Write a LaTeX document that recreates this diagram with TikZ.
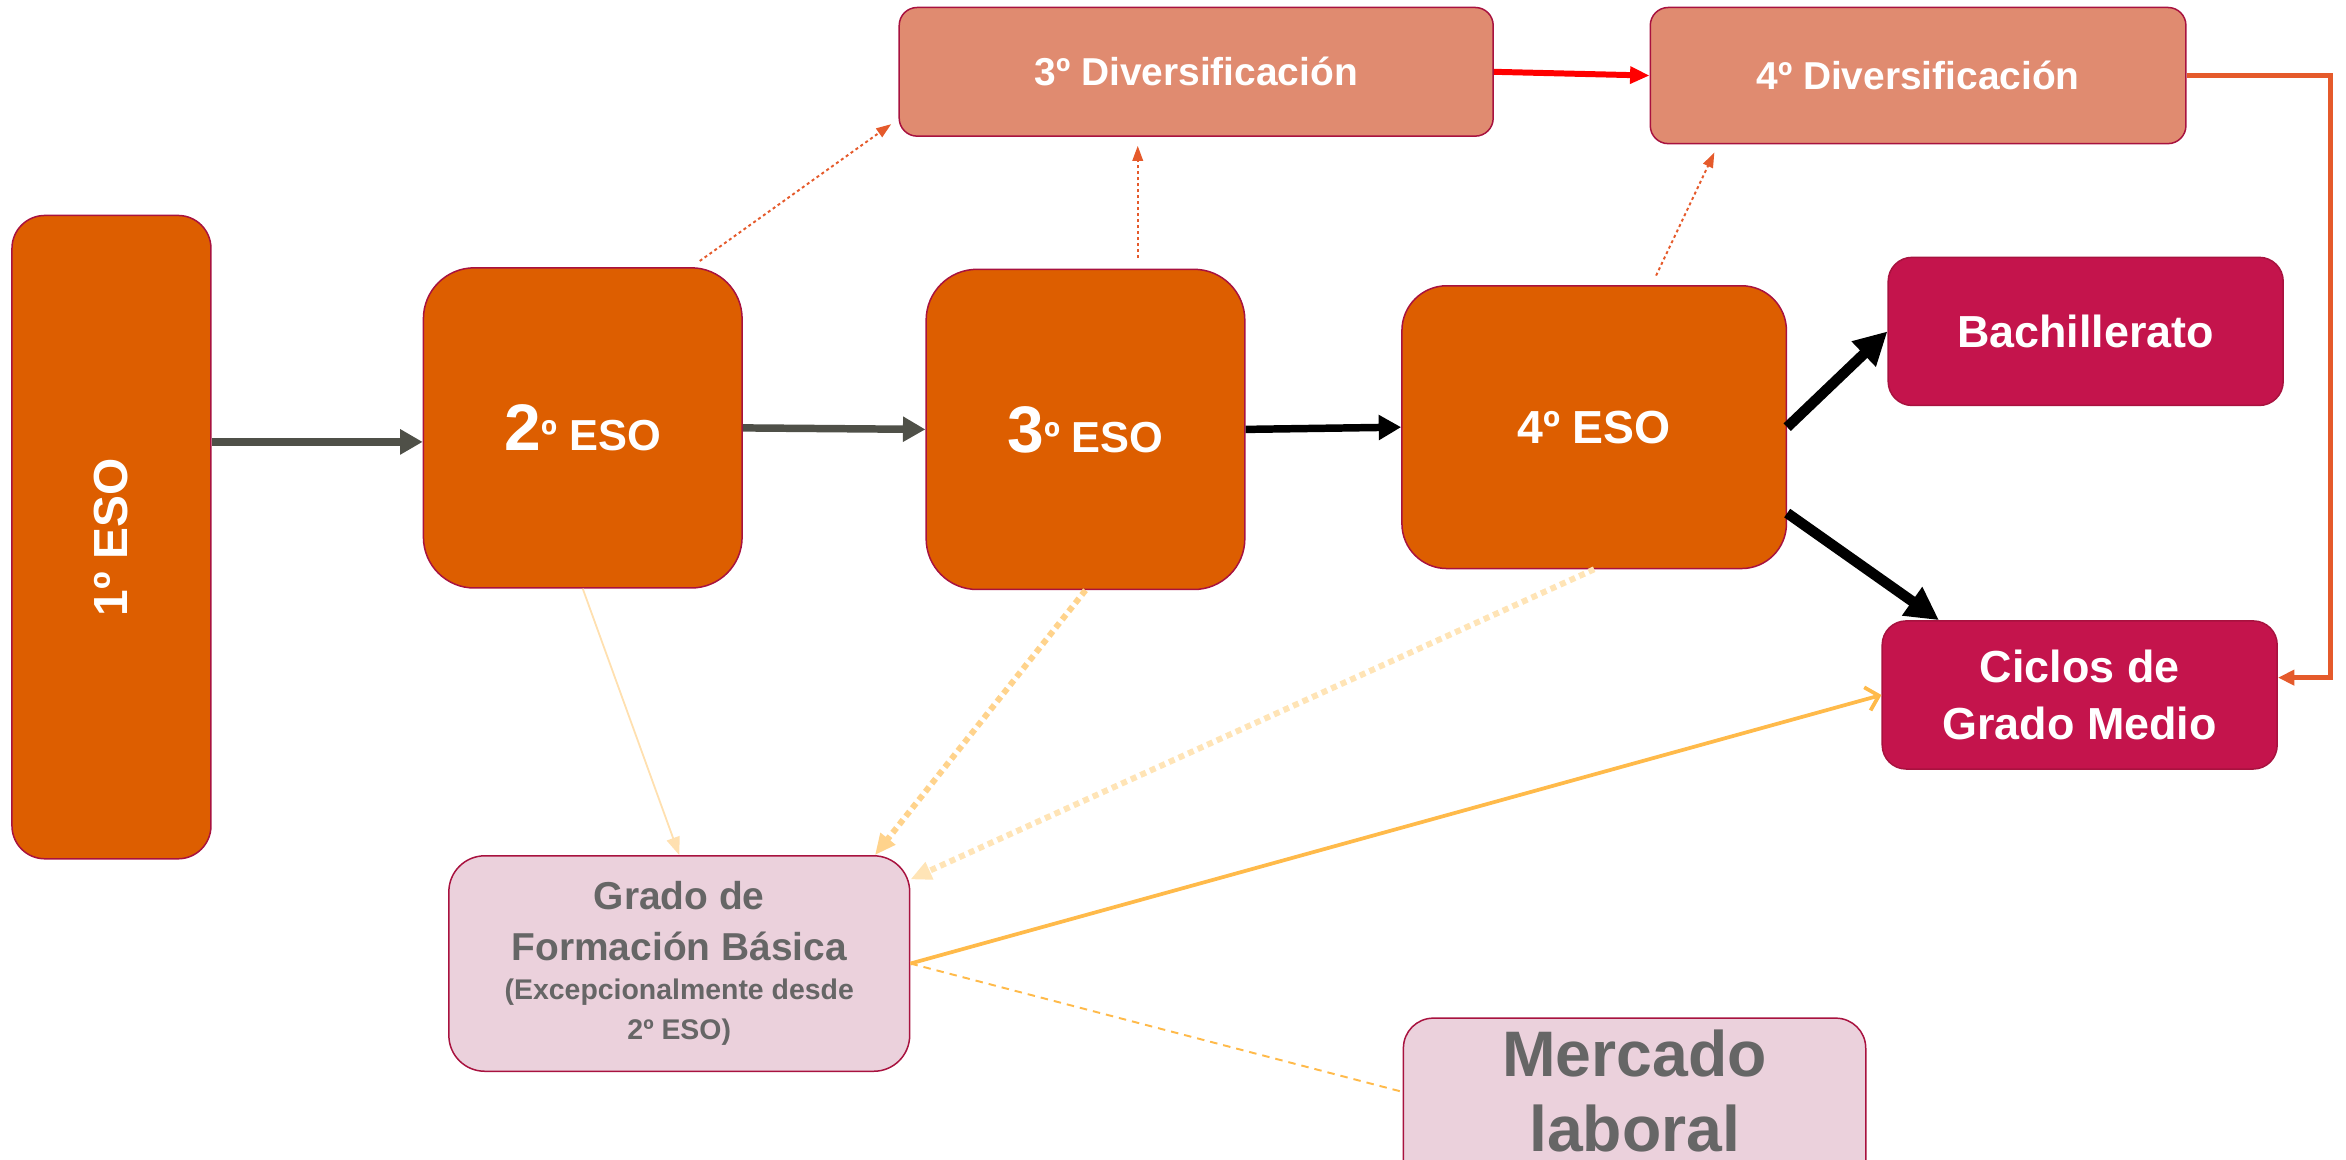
\documentclass[tikz,border=0pt]{standalone}
\usepackage{fontspec}
\setmainfont{Liberation Sans}
\usetikzlibrary{arrows.meta}
\definecolor{esoorange}{RGB}{221,94,0}
\definecolor{divsalmon}{RGB}{224,139,112}
\definecolor{crimson}{RGB}{196,20,76}
\definecolor{pinkfill}{RGB}{235,209,220}
\definecolor{edgered}{RGB}{168,18,63}
\definecolor{greytext}{RGB}{102,102,102}
\definecolor{darkarrow}{RGB}{79,80,72}
\definecolor{divarrow}{RGB}{229,90,43}
\definecolor{peach}{RGB}{255,224,176}
\definecolor{peachdot}{RGB}{255,211,140}
\definecolor{peachlight}{RGB}{255,228,182}
\definecolor{amber}{RGB}{255,186,74}
\newcommand{\setfs}[2]{\fontsize{#1}{#2}\selectfont}

\begin{document}
\begin{tikzpicture}[x=1pt,y=-1pt,
  box/.style={draw=edgered,line width=1pt,text=white,font=\bfseries,align=center,inner sep=0pt},
  eso/.style={box,fill=esoorange,rounded corners=34pt},
  div/.style={box,fill=divsalmon,rounded corners=12pt,font=\bfseries\setfs{26}{30}},
  exit/.style={box,fill=crimson,rounded corners=16pt,font=\bfseries\setfs{30}{38}},
  pink/.style={box,fill=pinkfill,text=greytext},
  fat/.style={-{Triangle[length=15pt,width=16pt]},line width=5pt},
  fatter/.style={-{Triangle[length=22pt,width=22pt]},line width=7pt},
  updot/.style={-{Triangle[length=10pt,width=7pt]},divarrow,line width=1.3pt,dash pattern=on 2pt off 2pt,shorten <=7pt,shorten >=6pt},
  downdot/.style={-{Triangle[length=14pt,width=12pt]},line width=4pt,dash pattern=on 4pt off 3pt}]
\clip (0,0) rectangle (1568,775);

\node[eso,rounded corners=22pt,rotate=90,minimum width=430,minimum height=133,font=\bfseries\setfs{32}{36}] (eso1) at (74.5,359) {1º ESO};
\node[eso,minimum width=213,minimum height=214,font=\bfseries\setfs{29}{34}] (eso2) at (389.5,286) {{\setfs{44}{48}2}º ESO};
\node[eso,minimum width=213,minimum height=214,font=\bfseries\setfs{29}{34}] (eso3) at (725.5,287) {{\setfs{44}{48}3}º ESO};
\node[eso,rounded corners=30pt,minimum width=257,minimum height=189,font=\bfseries\setfs{31}{36}] (eso4) at (1065.5,285.5) {4º ESO};
\node[div,minimum width=397,minimum height=86] (div3) at (799.5,48) {3º Diversificación};
\node[div,minimum width=358,minimum height=91] (div4) at (1282,50.5) {4º Diversificación};
\node[exit,minimum width=264,minimum height=99] (bach) at (1394,221.5) {Bachillerato};
\node[exit,minimum width=264,minimum height=99] (ciclos) at (1390,464.5) {Ciclos de\\Grado Medio};
\node[pink,rounded corners=24pt,minimum width=308,minimum height=144,font=\bfseries\setfs{26}{34}] (gfb) at (454,644)
  {Grado de\\Formación Básica\\[-8pt]{\setfs{19}{27}(Excepcionalmente desde}\\[-7pt]{\setfs{19}{27}2º ESO)}};
\node[pink,rounded corners=20pt,anchor=north,minimum width=309,inner ysep=8pt,text depth=45pt,font=\bfseries\setfs{43}{50}] (mer) at (1092.5,680) {Mercado\\laboral};

\draw[fat,darkarrow] (eso1.south |- eso2.185) -- (eso2.185);
\draw[fat,darkarrow] (eso2.east) -- (eso3.west);
\draw[fat] (eso3.east) -- (eso4.west);
\draw[fatter] (eso4.east) -- (bach.west);
\draw[fatter] (eso4.-24) -- (ciclos.152);
\draw[-{Triangle[length=13pt,width=11pt]},line width=4pt,red] (div3.east) -- (div4.west);
\draw[-{Triangle[length=11pt,width=10pt]},line width=3.5pt,divarrow] (div4.east) -- ++(96,0) |- (ciclos.5);
\draw[updot] (eso2.56) -- (div3.189);
\draw[updot] (eso3.72) -- (eso3.72 |- div3.south);
\draw[updot] (eso4.68) -- (div4.199);
\draw[-{Triangle[length=12pt,width=9pt]},peach,line width=1.2pt] (eso2.south) -- (gfb.north);
\draw[downdot,peachdot] (eso3.south) -- (gfb.29);
\draw[downdot,peachlight] (eso4.south) -- (gfb.20);
\draw[-{Straight Barb[length=8pt,width=16pt]},amber,line width=2.5pt] (gfb.east) -- (ciclos.west);
\draw[amber,line width=1.3pt,dash pattern=on 5pt off 4pt] (gfb.east) -- (mer.172);
\end{tikzpicture}
\end{document}
